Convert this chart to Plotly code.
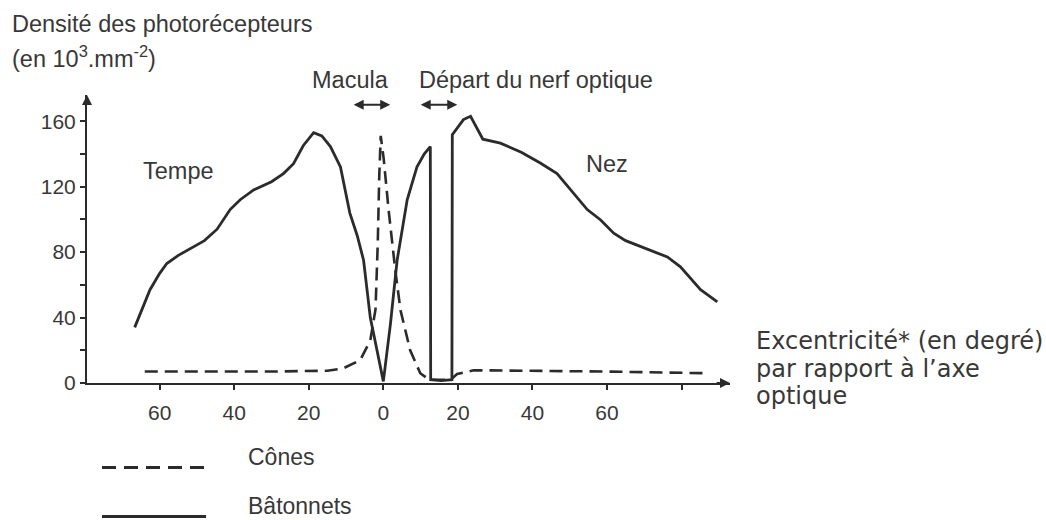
import plotly.graph_objects as go

# ---------------- data ----------------
rods_x = [-66.7, -64.5, -62.6, -60.0, -58.1, -55.0, -52.7, -48.0, -44.6, -41.1, -38.4, -34.8,
          -30.0, -26.8, -24.1, -21.5, -18.7, -16.5, -14.2, -11.5, -9.0, -7.0, -5.3, -3.5,
          -1.7, 0.0, 1.9, 3.7, 6.4, 9.0, 11.0, 12.6, 12.7, 15.5, 18.4, 18.5, 21.5, 23.4,
          26.7, 31.4, 37.0, 42.1, 46.6, 51.1, 54.7, 58.3, 61.8, 65.0, 69.0, 76.2, 79.7,
          85.1, 89.6]
rods_y = [34, 46, 57, 67, 73, 78, 81, 87, 94, 106, 112, 118,
          123, 128, 134, 145, 153, 151, 144.5, 132, 104, 90, 75, 40,
          20, 1, 36, 75, 112, 132, 140, 144.5, 2, 1.5, 2, 151.7, 161, 163,
          149, 146.6, 141, 134.4, 128, 116, 106, 99.6, 91.5, 87, 83.3, 77, 71,
          57, 49.6]

cones_x = [-64.0, -30.0, -15.0, -10.7, -6.2, -3.5, -2.1, -1.5, -1.1, -0.7, 0.1, 1.4, 3.2,
           4.6, 7.2, 9.9, 11.7, 13.0, 18.0, 19.8, 24.2, 40.0, 60.0, 86.0]
cones_y = [7, 7, 7.5, 9, 14, 26, 45, 85, 126, 151, 137, 106, 69,
           44.5, 20, 6, 3, 2, 2, 5.5, 7.8, 7.5, 7, 6]

x_tickvals = [-60, -40, -20, 0, 20, 40, 60, 80]
x_ticktext = ["60", "40", "20", "0", "20", "40", "60", ""]
y_tickvals = [0, 20, 40, 60, 80, 100, 120, 140, 160]
y_ticktext = ["0", "", "40", "", "80", "", "120", "", "160"]

series_names = ["Cônes", "Bâtonnets"]

# ---------------- layout geometry (pixels) ----------------
W, H = 1046, 520
L, R, T, B = 87.0, 729.6, 95.3, 382.7
XR = [-79.5, 93.0]
YR = [0, 176.0]

def px(xp):
    return (xp - L) / (R - L)

def py(yp):
    return (B - yp) / (B - T)

INK = "#2b2b2b"
TXT = "#383838"
SANS = "Liberation Sans, Arial, sans-serif"

fig = go.Figure()
fig.add_trace(go.Scatter(x=cones_x, y=cones_y, mode="lines", name=series_names[0],
                         line=dict(color=INK, width=2.6, dash="13px,7px"),
                         showlegend=False, cliponaxis=False, hoverinfo="skip"))
fig.add_trace(go.Scatter(x=rods_x, y=rods_y, mode="lines", name=series_names[1],
                         line=dict(color=INK, width=2.8),
                         showlegend=False, cliponaxis=False, hoverinfo="skip"))

fig.update_layout(
    width=W, height=H,
    margin=dict(l=L, r=W - R, t=T, b=H - B, pad=0, autoexpand=False),
    paper_bgcolor="white", plot_bgcolor="white",
    font=dict(family=SANS, color=TXT, size=21),
    xaxis=dict(range=XR, showgrid=False, zeroline=False, showline=True,
               linecolor=INK, linewidth=2, ticks="outside", ticklen=5,
               tickwidth=2, tickcolor=INK, tickvals=x_tickvals, ticktext=x_ticktext,
               tickfont=dict(size=21, color=TXT), ticklabelstandoff=5),
    yaxis=dict(range=YR, showgrid=False, zeroline=False, showline=True,
               linecolor=INK, linewidth=2, ticks="outside", ticklen=5,
               tickwidth=2, tickcolor=INK, tickvals=y_tickvals, ticktext=y_ticktext,
               tickfont=dict(size=21, color=TXT)),
)

annotations = []

def text(s, xp, yp, size=23.5, family=SANS, xanchor="left"):
    annotations.append(dict(text=s, x=px(xp), y=py(yp), xref="paper", yref="paper",
                            xanchor=xanchor, yanchor="middle", showarrow=False,
                            font=dict(size=size, family=family, color=TXT)))

text("Densité des photorécepteurs", 10, 24.5)
text("(en 10<sup>3</sup>.mm<sup>-2</sup>)", 10, 57.5)
text("Macula", 350, 80.5, xanchor="center")
text("Départ du nerf optique", 417, 80.5)
text("Tempe", 141, 171.5)
text("Nez", 584, 164.5)
DV = "DejaVu Sans, Verdana, sans-serif"
text("Excentricité* (en degré)", 754, 341, size=24, family=DV)
text("par rapport à l’axe", 754, 369, size=24, family=DV)
text("optique", 754, 396, size=24, family=DV)
text(series_names[0], 246, 457, size=23)
text(series_names[1], 246, 505, size=23)

def arrow(x0, y0, x1, y1, side="end", head=2):
    annotations.append(dict(text="", x=x1, y=y1, ax=x0, ay=y0, xref="x", yref="y",
                            axref="x", ayref="y", showarrow=True, arrowhead=head,
                            startarrowhead=head, arrowside=side, arrowsize=1,
                            startarrowsize=1, arrowwidth=2, arrowcolor=INK))

def dx(xp):
    return XR[0] + (xp - L) / (R - L) * (XR[1] - XR[0])

def dy(yp):
    return YR[0] + (B - yp) / (B - T) * (YR[1] - YR[0])

# axis arrows
arrow(XR[0], YR[1] - 6, XR[0], YR[1])
arrow(XR[1] - 4, 0, XR[1], 0)
# double arrows
arrow(dx(352), dy(105), dx(390), dy(105), side="end+start")
arrow(dx(419), dy(105), dx(457), dy(105), side="end+start")

fig.update_layout(annotations=annotations)

# legend line samples
fig.add_shape(type="line", xref="paper", yref="paper", x0=px(102), x1=px(206),
              y0=py(467), y1=py(467), line=dict(color=INK, width=3, dash="14px,8px"))
fig.add_shape(type="line", xref="paper", yref="paper", x0=px(102), x1=px(206),
              y0=py(516), y1=py(516), line=dict(color=INK, width=3))

fig.write_html("out.html", config={"displayModeBar": False},
               post_script="document.body.style.margin='0px';document.body.style.overflow='hidden';")
